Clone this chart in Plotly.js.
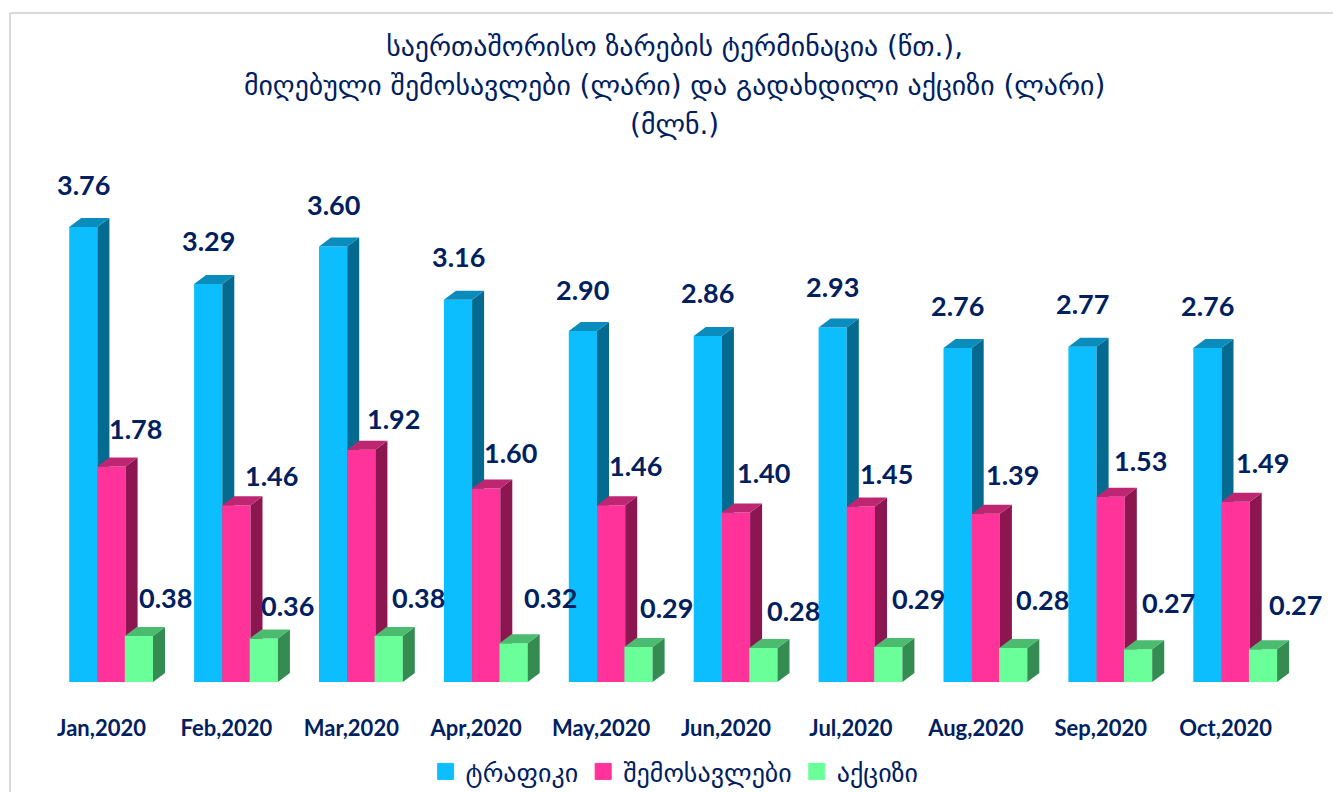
<!DOCTYPE html>
<html>
<head>
<meta charset="utf-8">
<script src="https://cdn.plot.ly/plotly-3.0.1.min.js"></script>
<style>html,body{margin:0;padding:0;background:#fff;overflow:hidden}</style>
</head>
<body>
<div id="chart" style="width:1333px;height:792px"></div>
<script>
var categories = ["Jan,2020","Feb,2020","Mar,2020","Apr,2020","May,2020","Jun,2020","Jul,2020","Aug,2020","Sep,2020","Oct,2020"];
var traffic = [3.76,3.29,3.60,3.16,2.90,2.86,2.93,2.76,2.77,2.76];
var revenue = [1.78,1.46,1.92,1.60,1.46,1.40,1.45,1.39,1.53,1.49];
var excise  = [0.38,0.36,0.38,0.32,0.29,0.28,0.29,0.28,0.27,0.27];
var seriesNames = ["ტრაფიკი","შემოსავლები","აქციზი"];
var titleLines = ["საერთაშორისო ზარების ტერმინაცია (წთ.),","მიღებული შემოსავლები (ლარი) და გადახდილი აქციზი (ლარი)","(მლნ.)"];

// hand-placed data label offsets, px from front-top centre of each bar
var labelDx = [
  [0,0,0,0,0,0,0,0,0,0],
  [23.5,35.5,32.5,24,24,27,26,27,30,27],
  [27,24,30,36.5,27.5,30.5,30.5,29.5,30.5,32.5]
];
var labelDy = [
  [43,43,42,43,42,43,41,43,43,43],
  [38.5,30,31,36,40,40,33.5,39,36,39],
  [39,33,39,46,39,38,48,49,47,45]
];

var INK = "#002060";
var FONT = "Lato, Carlito, Calibri, sans-serif";
var GEO = "'DejaVu Sans', sans-serif";
var W = 1333, H = 792;
var M = {l:30, r:30, t:20, b:110};
var STEP = 124.9, UNIT = 121, CX0 = 111.5;
var BAR = 28.2, DEPTH_X = 12, DEPTH_Y = 9;
var xRange = [(M.l-CX0)/STEP, (W-M.r-CX0)/STEP];
var yRange = [0, (H-M.t-M.b)/UNIT];
var barW = BAR/STEP, dxU = DEPTH_X/STEP, dyU = DEPTH_Y/UNIT;

var styles = [
  {front:"#0DBEFF", side:"#046A90", top:"#0A8DBD", off:-1.5*barW},
  {front:"#FF3399", side:"#8B1650", top:"#BE2672", off:-0.5*barW},
  {front:"#6BFF99", side:"#348C52", top:"#4BBB70", off:0.5*barW-0.8/STEP}
];
var allValues = [traffic, revenue, excise];
var idx = categories.map(function(_,i){return i;});
var traces = [], annotations = [];

allValues.forEach(function(vals,s){
  var st = styles[s];
  var sfx = s === 0 ? "" : String(s+1);
  var xa = "x"+sfx, ya = "y"+sfx;
  traces.push({type:"bar", x:idx, y:vals, width:barW, offset:st.off, name:seriesNames[s],
    legendgroup:"g"+s, showlegend:false, marker:{color:st.front, line:{width:0}},
    xaxis:xa, yaxis:ya, hovertemplate:"%{y:.2f}<extra>"+seriesNames[s]+"</extra>"});
  var sx=[],sy=[],tx=[],ty=[];
  vals.forEach(function(v,i){
    var xl = i+st.off, xr = xl+barW;
    sx.push(xr,xr+dxU,xr+dxU,xr,xr,null);
    sy.push(0,dyU,v+dyU,v,0,null);
    tx.push(xl,xl+dxU,xr+dxU,xr,xl,null);
    ty.push(v,v+dyU,v+dyU,v,v,null);
    annotations.push({xref:"x",yref:"y",x:xl+barW/2,y:v,xshift:labelDx[s][i],yshift:labelDy[s][i],
      text:v.toFixed(2),showarrow:false,xanchor:"center",yanchor:"middle",
      font:{family:FONT,size:27,color:INK,weight:700}});
  });
  traces.push({type:"scatter",mode:"none",x:sx,y:sy,fill:"toself",fillcolor:st.side,showlegend:false,hoverinfo:"skip",xaxis:xa,yaxis:ya});
  traces.push({type:"scatter",mode:"none",x:tx,y:ty,fill:"toself",fillcolor:st.top,showlegend:false,hoverinfo:"skip",xaxis:xa,yaxis:ya});
});
// legend swatches, grouped with their bars
allValues.forEach(function(vals,s){
  traces.push({type:"scatter",mode:"markers",x:[null],y:[null],name:seriesNames[s],legendgroup:"g"+s,
    showlegend:true,marker:{symbol:"square",size:16,color:styles[s].front,line:{width:1,color:styles[s].front}},
    xaxis:"x3",yaxis:"y3"});
});

var hiddenAxis = function(r,over){return {range:r,overlaying:over,visible:false,fixedrange:true};};
var layout = {
  width:W,height:H,margin:M,paper_bgcolor:"#fff",plot_bgcolor:"rgba(0,0,0,0)",
  barmode:"overlay",
  title:{
    text:titleLines.map(function(t){return '<span style="font-size:27.8px">'+t+'</span>';}).join("<br>"),
    font:{family:GEO,size:30,color:INK},x:675/W,xanchor:"center",xref:"paper",y:1-56/H,yanchor:"top"
  },
  xaxis:{range:xRange,tickmode:"array",tickvals:idx.map(function(i){return i-0.08;}),ticktext:categories,
    showgrid:false,zeroline:false,showline:false,ticks:"outside",ticklen:27,tickcolor:"rgba(0,0,0,0)",
    tickfont:{family:FONT,size:22,color:INK,weight:700},fixedrange:true,tickangle:0},
  yaxis:{range:yRange,visible:false,fixedrange:true},
  xaxis2:hiddenAxis(xRange,"x"),yaxis2:hiddenAxis(yRange,"y"),
  xaxis3:hiddenAxis(xRange,"x"),yaxis3:hiddenAxis(yRange,"y"),
  legend:{orientation:"h",x:675/W,xanchor:"center",y:1-748/H,yref:"container",yanchor:"top",
    font:{family:GEO,size:26,color:INK},itemclick:false,itemdoubleclick:false,bgcolor:"rgba(0,0,0,0)"},
  annotations:annotations,
  shapes:[
    {type:"line",xref:"paper",yref:"paper",x0:(10-M.l)/(W-M.l-M.r),x1:(W-M.l)/(W-M.l-M.r),y0:(H-M.b-13)/(H-M.t-M.b),y1:(H-M.b-13)/(H-M.t-M.b),line:{color:"#D9D9D9",width:2}},
    {type:"line",xref:"paper",yref:"paper",x0:(10-M.l)/(W-M.l-M.r),x1:(10-M.l)/(W-M.l-M.r),y0:(H-M.b-13)/(H-M.t-M.b),y1:-M.b/(H-M.t-M.b),line:{color:"#D9D9D9",width:2}}
  ]
};
Plotly.newPlot("chart",traces,layout,{displayModeBar:false,responsive:false});
</script>
</body>
</html>
